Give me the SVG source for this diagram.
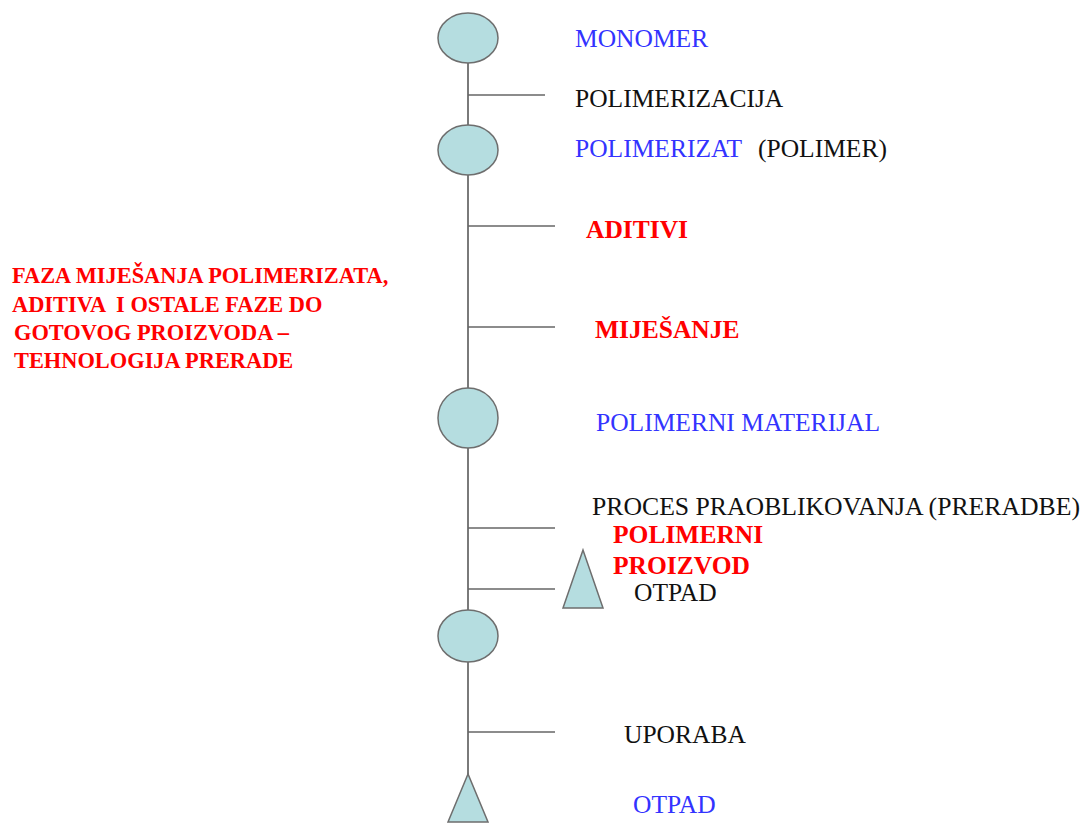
<svg xmlns="http://www.w3.org/2000/svg" width="1086" height="823" viewBox="0 0 1086 823">
<style>
.ln{stroke:#7a7a7a;stroke-width:2;fill:none}
.tk{stroke:#666;stroke-width:1.5;fill:none}
.nd{fill:#b5dde0;stroke:#6e6e6e;stroke-width:1.5}
.t{font-family:"Liberation Serif","Times New Roman",serif;font-size:25.5px}
.b{fill:#3333ff}
.k{fill:#111}
.r{fill:#ff0000;font-weight:bold}
.rl{font-family:"Liberation Serif","Times New Roman",serif;font-size:22.4px;fill:#ff0000;font-weight:bold}
</style>
<rect width="1086" height="823" fill="#ffffff"/>
<g id="connectors">
<line class="ln" x1="468" y1="63" x2="468" y2="775"/>
<line class="tk" x1="468" y1="95" x2="545" y2="95"/>
<line class="tk" x1="468" y1="226" x2="555" y2="226"/>
<line class="tk" x1="468" y1="327" x2="555" y2="327"/>
<line class="tk" x1="468" y1="528" x2="555" y2="528"/>
<line class="tk" x1="468" y1="589" x2="555" y2="589"/>
<line class="tk" x1="468" y1="732" x2="555" y2="732"/>
</g>
<g id="monomer">
<ellipse class="nd" cx="468" cy="38" rx="30" ry="25"/>
<text class="t b" x="575" y="47">MONOMER</text>
</g>
<g id="polimerizacija">
<text class="t k" x="575" y="107">POLIMERIZACIJA</text>
</g>
<g id="polimerizat">
<ellipse class="nd" cx="468" cy="150" rx="30" ry="25"/>
<text class="t b" x="575" y="157">POLIMERIZAT</text>
<text class="t k" x="758" y="157">(POLIMER)</text>
</g>
<g id="aditivi">
<text class="t r" x="586" y="238">ADITIVI</text>
</g>
<g id="faza">
<text class="rl" x="12" y="283">FAZA MIJEŠANJA POLIMERIZATA,</text>
<text class="rl" x="12" y="312" xml:space="preserve">ADITIVA  I OSTALE FAZE DO</text>
<text class="rl" x="14" y="340">GOTOVOG PROIZVODA –</text>
<text class="rl" x="14" y="368">TEHNOLOGIJA PRERADE</text>
</g>
<g id="mijesanje">
<text class="t r" x="595" y="338">MIJEŠANJE</text>
</g>
<g id="polimerni-materijal">
<ellipse class="nd" cx="468" cy="418" rx="30" ry="30"/>
<text class="t b" x="596" y="431">POLIMERNI MATERIJAL</text>
</g>
<g id="proces">
<text class="t k" x="592" y="515" textLength="488" lengthAdjust="spacingAndGlyphs">PROCES PRAOBLIKOVANJA (PRERADBE)</text>
</g>
<g id="polimerni-proizvod">
<text class="t r" x="613" y="543">POLIMERNI</text>
<text class="t r" x="613" y="574">PROIZVOD</text>
</g>
<g id="otpad1">
<polygon class="nd" points="583,550 563,608 603,608"/>
<text class="t k" x="634" y="601">OTPAD</text>
</g>
<g id="uporaba-node">
<ellipse class="nd" cx="468" cy="636" rx="30" ry="26"/>
</g>
<g id="uporaba">
<text class="t k" x="624" y="743">UPORABA</text>
</g>
<g id="otpad2">
<polygon class="nd" points="468,774 448,822 488,822"/>
<text class="t b" x="633" y="813">OTPAD</text>
</g>
</svg>
